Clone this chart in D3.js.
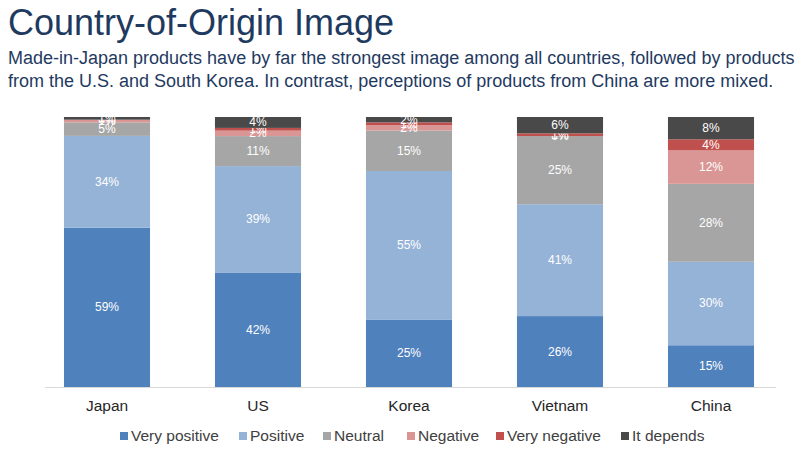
<!DOCTYPE html>
<html><head><meta charset="utf-8">
<script src="https://cdn.jsdelivr.net/npm/d3@7"></script>
<style>body{margin:0;background:#fff;}svg{display:block;font-family:"Liberation Sans",Arial,sans-serif;}</style>
</head><body>
<svg id="c" width="808" height="474"></svg>
<script>
const categories = ["Japan","US","Korea","Vietnam","China"];
const seriesNames = ["Very positive","Positive","Neutral","Negative","Very negative","It depends"];
const veryPositive = [59,42,25,26,15];
const positive     = [34,39,55,41,30];
const neutral      = [5,11,15,25,28];
const negative     = [1,2,2,0,12];
const veryNegative = [0,1,1,1,4];
const itDepends    = [1,4,2,6,8];
const colors = ["#4F81BD","#95B3D7","#A6A6A6","#DA9694","#C0504D","#494949"];

const svg = d3.select("#c");
const rows = categories.map((c,i)=>({cat:c,
  "Very positive":veryPositive[i],"Positive":positive[i],"Neutral":neutral[i],
  "Negative":negative[i],"Very negative":veryNegative[i],"It depends":itDepends[i]}));
const stack = d3.stack().keys(seriesNames).offset(d3.stackOffsetExpand)(rows);

const x = d3.scaleBand().domain(categories).range([31.5,786.5]).paddingInner(0.43).paddingOuter(0.215);
const y = d3.scaleLinear().domain([0,1]).range([387,117]);

svg.append("text").attr("x",8).attr("y",35).attr("fill","#1F3A5F").attr("font-size",36).text("Country-of-Origin Image");
svg.append("text").attr("x",8).attr("y",64).attr("fill","#1F3A5F").attr("font-size",18)
  .text("Made-in-Japan products have by far the strongest image among all countries, followed by products");
svg.append("text").attr("x",8).attr("y",87).attr("fill","#1F3A5F").attr("font-size",18)
  .text("from the U.S. and South Korea. In contrast, perceptions of products from China are more mixed.");

const g = svg.append("g");
stack.forEach((s,si)=>{
  g.selectAll(null).data(s).enter().append("rect")
    .attr("x",d=>x(d.data.cat)).attr("width",x.bandwidth())
    .attr("y",d=>y(d[1])).attr("height",d=>y(d[0])-y(d[1]))
    .attr("fill",colors[si]);
  g.selectAll(null).data(s).enter().append("text")
    .attr("x",d=>x(d.data.cat)+x.bandwidth()/2)
    .attr("y",d=>(y(d[0])+y(d[1]))/2+4)
    .attr("text-anchor","middle").attr("font-size",12).attr("fill","#fff")
    .text(d=>d.data[s.key]+"%");
});

svg.append("line").attr("x1",45).attr("x2",776).attr("y1",387.5).attr("y2",387.5).attr("stroke","#D9D9D9");
const xa = svg.append("g").attr("transform","translate(0,387)").call(d3.axisBottom(x).tickSize(0).tickPadding(13));
xa.select(".domain").remove();
xa.selectAll("text").attr("font-size",15.5).attr("fill","#262626").attr("font-family","Liberation Sans,Arial,sans-serif");

const legX = [120,239,323,407,496,621];
const leg = svg.append("g");
seriesNames.forEach((n,i)=>{
  leg.append("rect").attr("x",legX[i]).attr("y",432).attr("width",8).attr("height",8).attr("fill",colors[i]);
  leg.append("text").attr("x",legX[i]+11).attr("y",441).attr("font-size",15.5).attr("fill","#404040").text(n);
});
</script>
</body></html>
